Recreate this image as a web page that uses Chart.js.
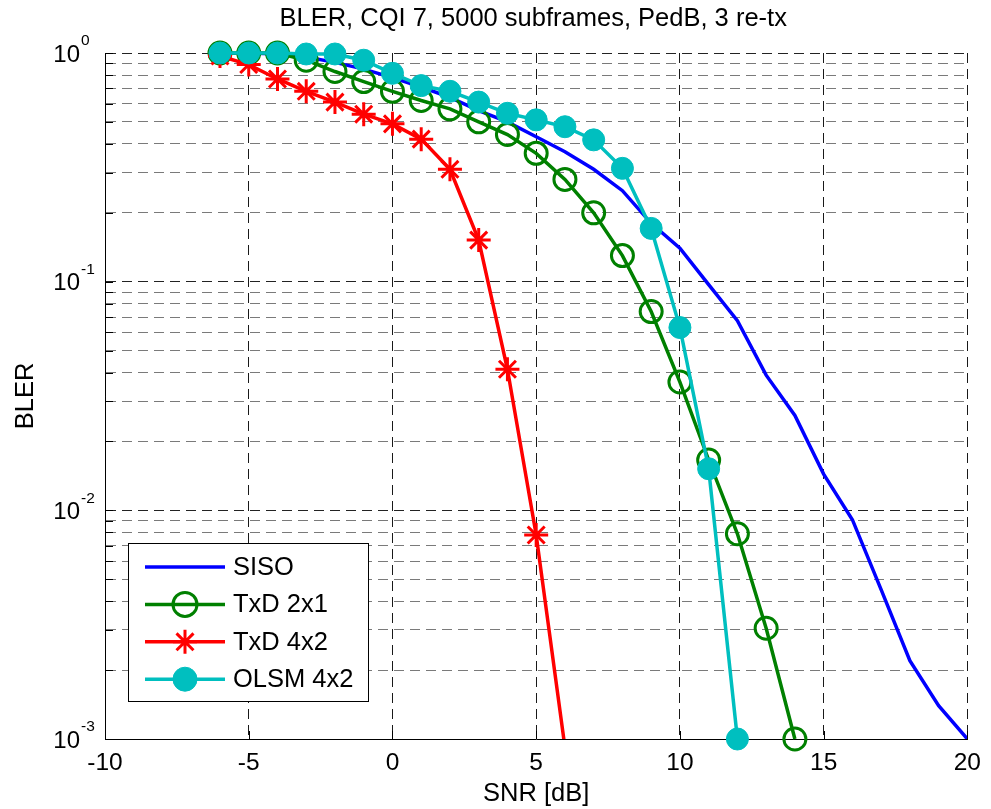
<!DOCTYPE html>
<html>
<head>
<meta charset="utf-8">
<title>BLER, CQI 7</title>
<script src="https://cdn.jsdelivr.net/npm/chart.js@4.4.1/dist/chart.umd.min.js"></script>
<style>
  html, body { margin: 0; padding: 0; background: #fff; }
</style>
</head>
<body>
<canvas id="blerChart" width="991" height="809"></canvas>
<script>
// Data (SNR in dB, BLER)
const snrSiso = [-6, -5, -4, -3, -2, -1, 0, 1, 2, 3, 4, 5, 6, 7, 8, 9, 10, 11, 12, 13, 14, 15, 16, 17, 18, 19, 20];
const blerSiso = [1.0, 1.0, 0.99, 0.96, 0.91, 0.85, 0.78, 0.71, 0.64, 0.56, 0.50, 0.43, 0.37, 0.31, 0.25, 0.18, 0.14,
    0.097, 0.0675, 0.039, 0.026, 0.0144, 0.0091, 0.0045, 0.0022, 0.0014, 0.001];

const snrTxd2x1 = [-6, -5, -4, -3, -2, -1, 0, 1, 2, 3, 4, 5, 6, 7, 8, 9, 10, 11, 12, 13, 14];
const blerTxd2x1 = [1.0, 1.0, 1.0, 0.93, 0.83, 0.75, 0.68, 0.62, 0.57, 0.50, 0.44, 0.364, 0.28, 0.20, 0.13,
    0.074, 0.0364, 0.0166, 0.0079, 0.00305, 0.001];

const snrTxd4x2 = [-6, -5, -4, -3, -2, -1, 0, 1, 2, 3, 4, 5, 6];
const blerTxd4x2 = [0.97, 0.89, 0.77, 0.68, 0.61, 0.54, 0.49, 0.42, 0.31, 0.152, 0.0414, 0.0078, 0.00092];

const snrOlsm = [-6, -5, -4, -3, -2, -1, 0, 1, 2, 3, 4, 5, 6, 7, 8, 9, 10, 11, 12];
const blerOlsm = [1.0, 1.0, 1.0, 0.99, 0.99, 0.93, 0.815, 0.72, 0.68, 0.61, 0.545, 0.51, 0.476, 0.417, 0.313,
    0.171, 0.063, 0.0152, 0.001];

const seriesNames = ['SISO', 'TxD 2x1', 'TxD 4x2', 'OLSM 4x2'];
const chartTitle = 'BLER, CQI 7, 5000 subframes, PedB, 3 re-tx';
const xTicks = [-10, -5, 0, 5, 10, 15, 20];
const yDecades = [0.001, 0.01, 0.1, 1];

const FONT = '"Liberation Sans", Arial, Helvetica, sans-serif';

// log grid: 1..9 in every decade
const yTicks = [];
yDecades.forEach(d => {
    for (let m = 1; m <= 9; m++) {
        if (d * m <= 1.0000001) yTicks.push(d * m);
    }
});

function isDecade(v) {
    const l = Math.log10(v);
    return Math.abs(l - Math.round(l)) < 1e-6;
}

function toPoints(xs, ys) {
    return xs.map((x, i) => ({x: x, y: ys[i]}));
}

// last red point lies under 1e-3, only the line goes down there
const redRadius = snrTxd4x2.map((x, i) => blerTxd4x2[i] < 0.001 ? 0 : 12);

const datasets = [
    {
        label: seriesNames[0],
        data: toPoints(snrSiso, blerSiso),
        borderColor: '#0000ff',
        backgroundColor: '#0000ff',
        borderWidth: 3.5,
        pointRadius: 0,
        order: 4
    },
    {
        label: seriesNames[1],
        data: toPoints(snrTxd2x1, blerTxd2x1),
        borderColor: '#008000',
        backgroundColor: 'rgba(0,0,0,0)',
        borderWidth: 3.5,
        pointStyle: 'circle',
        pointRadius: 11,
        pointBorderWidth: 3,
        pointBorderColor: '#008000',
        pointBackgroundColor: 'rgba(0,0,0,0)',
        order: 3,
        clip: 20
    },
    {
        label: seriesNames[2],
        data: toPoints(snrTxd4x2, blerTxd4x2),
        borderColor: '#ff0000',
        backgroundColor: '#ff0000',
        borderWidth: 3.5,
        pointStyle: 'star',
        pointRadius: redRadius,
        pointBorderWidth: 3,
        pointBorderColor: '#ff0000',
        order: 2,
        clip: {left: 20, top: 20, right: 20, bottom: 0}
    },
    {
        label: seriesNames[3],
        data: toPoints(snrOlsm, blerOlsm),
        borderColor: '#00bfbf',
        backgroundColor: '#00bfbf',
        borderWidth: 3.5,
        pointStyle: 'circle',
        pointRadius: 11,
        pointBorderWidth: 1,
        pointBorderColor: '#00bfbf',
        pointBackgroundColor: '#00bfbf',
        order: 1,
        clip: 20
    }
];

// marker for the legend, same shapes as the chart
function drawMarker(ctx, ds, x, y) {
    if (!ds.pointStyle) return;
    ctx.save();
    ctx.lineWidth = ds.pointBorderWidth;
    ctx.strokeStyle = ds.pointBorderColor;
    ctx.fillStyle = ds.pointBackgroundColor || ds.backgroundColor;
    if (ds.pointStyle === 'circle') {
        ctx.beginPath();
        ctx.arc(x, y, 12, 0, Math.PI * 2);
        ctx.fill();
        ctx.stroke();
    } else if (ds.pointStyle === 'star') {
        const r = 12;
        const d = r * Math.SQRT1_2;
        ctx.beginPath();
        ctx.moveTo(x, y - r); ctx.lineTo(x, y + r);
        ctx.moveTo(x - r, y); ctx.lineTo(x + r, y);
        ctx.moveTo(x - d, y - d); ctx.lineTo(x + d, y + d);
        ctx.moveTo(x - d, y + d); ctx.lineTo(x + d, y - d);
        ctx.stroke();
    }
    ctx.restore();
}

// Title over the plot box, ticks inside the axes, 10^n labels and the boxed legend
const matlabLook = {
    id: 'matlabLook',
    afterDraw(chart) {
        const ctx = chart.ctx;
        const area = chart.chartArea;
        const xs = chart.scales.x;
        const ys = chart.scales.y;

        ctx.save();
        ctx.fillStyle = '#000';
        ctx.font = '25.5px ' + FONT;
        ctx.textAlign = 'center';
        ctx.textBaseline = 'middle';
        ctx.fillText(chartTitle, (area.left + area.right) / 2 - 3, 19);

        ctx.strokeStyle = '#000';
        ctx.lineWidth = 1;
        ctx.beginPath();
        yTicks.forEach(v => {
            const y = Math.round(ys.getPixelForValue(v)) + 0.5;
            ctx.moveTo(area.left, y);
            ctx.lineTo(area.left + 8, y);
        });
        xTicks.forEach(v => {
            const x = Math.round(xs.getPixelForValue(v)) + 0.5;
            ctx.moveTo(x, area.bottom);
            ctx.lineTo(x, area.bottom - 8);
        });
        ctx.stroke();

        yDecades.forEach(d => {
            const y = ys.getPixelForValue(d);
            ctx.font = '24px ' + FONT;
            ctx.textAlign = 'right';
            ctx.textBaseline = 'middle';
            ctx.fillText('10', 80, y + 2);
            ctx.font = '15.5px ' + FONT;
            ctx.textAlign = 'left';
            ctx.fillText(String(Math.round(Math.log10(d))), 81, y - 12);
        });

        // legend
        const box = {x: 128.5, y: 543.5, w: 240, h: 158};
        ctx.fillStyle = '#fff';
        ctx.fillRect(box.x, box.y, box.w, box.h);
        ctx.strokeStyle = '#000';
        ctx.lineWidth = 1;
        ctx.strokeRect(box.x, box.y, box.w, box.h);

        chart.data.datasets.forEach((ds, i) => {
            const y = 567 + i * 37.4;
            ctx.strokeStyle = ds.borderColor;
            ctx.lineWidth = ds.borderWidth;
            ctx.beginPath();
            ctx.moveTo(145, y);
            ctx.lineTo(225, y);
            ctx.stroke();
            drawMarker(ctx, ds, 185, y);
            ctx.fillStyle = '#000';
            ctx.font = '25.5px ' + FONT;
            ctx.textAlign = 'left';
            ctx.textBaseline = 'middle';
            ctx.fillText(ds.label, 233, y + 1);
        });
        ctx.restore();
    }
};

const config = {
    type: 'line',
    data: {datasets: datasets},
    options: {
        responsive: false,
        animation: false,
        events: [],
        layout: {padding: {left: 0, right: 19, top: 53, bottom: 0}},
        elements: {
            line: {tension: 0}
        },
        plugins: {
            legend: {display: false},
            tooltip: {enabled: false},
            title: {display: false}
        },
        scales: {
            x: {
                type: 'linear',
                min: -10,
                max: 20,
                afterBuildTicks: scale => {
                    scale.ticks = xTicks.map(v => ({value: v}));
                },
                afterFit: scale => {
                    scale.height = 70;
                },
                ticks: {
                    color: '#000',
                    padding: 10,
                    font: {family: FONT, size: 24.5}
                },
                grid: {
                    color: 'rgba(0,0,0,0.9)',
                    lineWidth: 1,
                    drawTicks: false
                },
                border: {display: true, color: '#000', width: 1, dash: [10, 6]},
                title: {
                    display: true,
                    text: 'SNR [dB]',
                    color: '#000',
                    font: {family: FONT, size: 25.5},
                    padding: {top: 0, bottom: 0}
                }
            },
            y: {
                type: 'logarithmic',
                min: 0.001,
                max: 1,
                afterBuildTicks: scale => {
                    scale.ticks = yTicks.map(v => ({value: v}));
                },
                afterFit: scale => {
                    scale.width = 105;
                },
                ticks: {display: false},
                grid: {
                    color: c => (c.tick && isDecade(c.tick.value)) ? '#222' : '#7a7a7a',
                    lineWidth: 1,
                    drawTicks: false
                },
                border: {display: true, color: '#000', width: 1, dash: [10, 6]},
                title: {
                    display: true,
                    text: 'BLER',
                    color: '#000',
                    font: {family: FONT, size: 25.5},
                    padding: {top: 11, bottom: 0}
                }
            }
        }
    },
    plugins: [matlabLook]
};

const blerChart = new Chart(document.getElementById('blerChart'), config);
</script>
</body>
</html>
